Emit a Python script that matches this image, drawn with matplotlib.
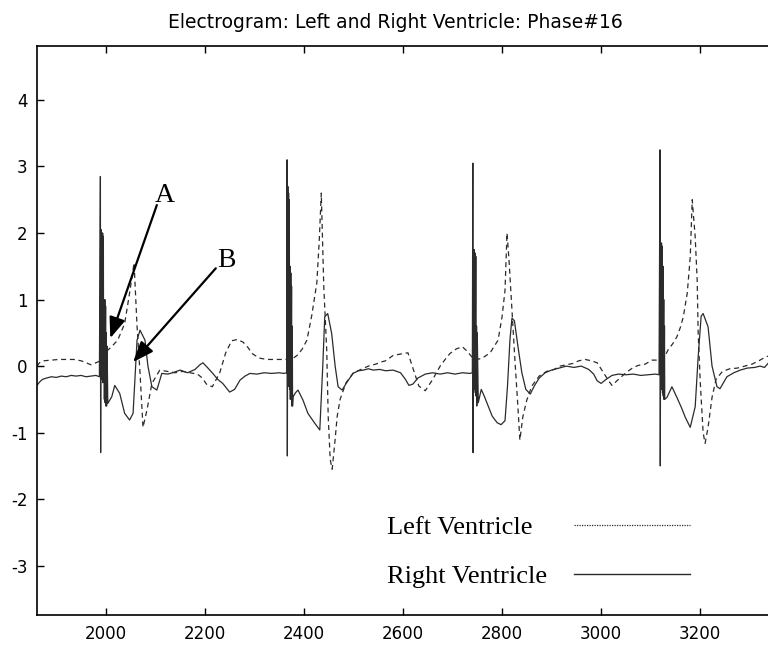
import numpy as np
import matplotlib.pyplot as plt
from matplotlib.lines import Line2D

plt.rcParams["axes.unicode_minus"] = False

# Right ventricle (solid) - sample times and voltages
rv_x = [1861, 1866, 1872, 1880, 1890, 1900, 1910, 1920, 1930, 1940, 1950, 1960, 1970, 1980, 1987,
        1989, 1989.5, 1990.5, 1991, 1992, 1992.5, 1993.5, 1994, 1995, 1995.5, 1996.5, 1997, 1998, 1998.5,
        1999.5, 2000, 2001, 2001.5, 2002.5,
        2004, 2012, 2018, 2028, 2038, 2048, 2055, 2063, 2069, 2079, 2085, 2093, 2103, 2113, 2125, 2135,
        2150, 2165, 2180, 2190, 2196, 2205, 2216, 2226, 2236, 2250, 2260, 2271, 2281, 2291, 2305, 2320,
        2335, 2350, 2360, 2365,
        2366, 2366.5, 2367.5, 2368, 2369, 2369.5, 2370.5, 2371, 2372, 2372.5, 2373.5, 2374, 2375, 2375.5,
        2376.5, 2377,
        2378, 2383, 2388, 2398, 2408, 2422, 2432, 2438, 2442, 2448, 2456, 2463, 2469, 2477, 2487, 2499,
        2510, 2520, 2530, 2540, 2553, 2565, 2580, 2595, 2605, 2612, 2620, 2630, 2645, 2660, 2675, 2690,
        2705, 2720, 2735, 2740,
        2741, 2741.5, 2742.5, 2743, 2744, 2744.5, 2745.5, 2746, 2747, 2747.5, 2748.5, 2749, 2750,
        2752, 2758, 2764, 2772, 2780, 2790, 2798, 2806, 2811, 2816, 2820, 2825, 2832, 2840, 2848, 2857,
        2865, 2875, 2887, 2900, 2915, 2930, 2945, 2960, 2975, 2985, 2992, 3000, 3010, 3022, 3035, 3050,
        3065, 3080, 3095, 3110, 3117,
        3119, 3119.5, 3120.5, 3121, 3122, 3122.5, 3123.5, 3124, 3125, 3125.5, 3126.5, 3127, 3128, 3128.5,
        3133, 3143, 3153, 3162, 3170, 3180, 3190, 3196, 3202, 3206, 3216, 3224, 3234, 3240, 3254, 3268,
        3281, 3295, 3310, 3321, 3330, 3337]
rv_y = [-0.29, -0.24, -0.2, -0.18, -0.16, -0.17, -0.15, -0.16, -0.14, -0.15, -0.14, -0.16, -0.15, -0.14, -0.16,
        2.85, -1.3, 2.05, -0.2, 2.0, -0.2, 2.0, -0.25, 1.95, -0.2, 1.0, -0.5, 1.0, -0.55,
        0.9, -0.6, 0.5, -0.6, 0.3,
        -0.56, -0.46, -0.29, -0.41, -0.71, -0.81, -0.71, 0.39, 0.54, 0.39, 0.0, -0.31, -0.36, -0.11, -0.12, -0.1,
        -0.06, -0.1, -0.05, 0.02, 0.05, -0.02, -0.11, -0.2, -0.26, -0.39, -0.35, -0.21, -0.15, -0.11, -0.12, -0.1,
        -0.11, -0.1, -0.11, -0.1,
        3.1, -1.35, 2.7, -0.3, 2.6, -0.3, 2.5, -0.35, 1.5, -0.5, 1.4, -0.5, 1.2, -0.6,
        0.6, -0.6,
        -0.46, -0.4, -0.36, -0.51, -0.71, -0.86, -0.96, 0.0, 0.74, 0.79, 0.49, 0.0, -0.31, -0.36, -0.24, -0.11,
        -0.07, -0.06, -0.04, -0.06, -0.05, -0.07, -0.06, -0.1, -0.2, -0.29, -0.27, -0.18, -0.12, -0.1, -0.12, -0.1,
        -0.12, -0.1, -0.11, -0.1,
        3.05, -1.3, 1.75, -0.3, 1.75, -0.35, 1.7, -0.4, 1.65, -0.45, 0.6, -0.6, 0.5,
        -0.55, -0.35, -0.45, -0.6, -0.75, -0.85, -0.88, -0.82, -0.3, 0.4, 0.72, 0.68, 0.3, -0.1, -0.35, -0.42,
        -0.3, -0.18, -0.1, -0.06, -0.03, 0.0, -0.02, 0.0, -0.05, -0.12, -0.22, -0.26, -0.2, -0.14, -0.12, -0.13,
        -0.12, -0.14, -0.13, -0.12, -0.13,
        3.25, -1.5, 1.85, -0.3, 1.85, -0.35, 1.8, -0.4, 1.5, -0.45, 1.0, -0.5, 0.6, -0.5,
        -0.47, -0.31, -0.47, -0.62, -0.77, -0.92, -0.61, 0.14, 0.75, 0.79, 0.59, 0.0, -0.31, -0.34, -0.16, -0.1,
        -0.06, -0.03, -0.02, 0.0, -0.02, 0.04]

# Left ventricle (dashed)
lv_x = [1861, 1866, 1875, 1890, 1905, 1920, 1935, 1950, 1960, 1970, 1980, 1989,
        1998, 2010, 2024, 2038, 2048, 2053, 2057, 2063, 2069, 2075, 2083, 2093, 2109, 2125, 2140, 2155,
        2170, 2185, 2195, 2204, 2215, 2230, 2242, 2254, 2265, 2277, 2287, 2295, 2310, 2325, 2340, 2357, 2366,
        2375, 2386, 2396, 2406, 2416, 2426, 2431, 2435, 2440, 2446, 2449, 2453, 2457, 2463, 2467, 2473,
        2485, 2500, 2515, 2530, 2545, 2555, 2565, 2580, 2594, 2610, 2620, 2632, 2645, 2660, 2675, 2685,
        2695, 2708, 2720, 2730, 2741,
        2750, 2760, 2776, 2792, 2800, 2806, 2810, 2814, 2820, 2826, 2832, 2836, 2842, 2850, 2860, 2875,
        2890, 2905, 2917, 2930, 2943, 2955, 2968, 2980, 2992, 3005, 3015, 3022, 3035, 3050, 3065, 3075,
        3089, 3103, 3113, 3119,
        3127, 3135, 3145, 3153, 3160, 3166, 3174, 3180, 3184, 3190, 3194, 3196, 3200, 3206, 3210, 3216,
        3224, 3232, 3245, 3260, 3275, 3290, 3305, 3321, 3330, 3337]
lv_y = [0.0, 0.05, 0.08, 0.09, 0.1, 0.1, 0.1, 0.08, 0.05, 0.02, 0.05, 0.08,
        0.2, 0.28, 0.39, 0.64, 1.1, 1.35, 1.55, 0.6, -0.1, -0.92, -0.66, -0.26, -0.06, -0.08, -0.1, -0.08,
        -0.1, -0.12, -0.18, -0.28, -0.31, -0.1, 0.2, 0.38, 0.4, 0.36, 0.28, 0.19, 0.12, 0.1, 0.1, 0.1, 0.1,
        0.1, 0.16, 0.25, 0.39, 0.77, 1.25, 1.9, 2.6, 1.2, 0.24, -0.76, -1.4, -1.55, -1.1, -0.76, -0.5,
        -0.25, -0.1, -0.05, 0.0, 0.03, 0.06, 0.08, 0.16, 0.18, 0.2, -0.03, -0.3, -0.37, -0.2, 0.0, 0.1,
        0.19, 0.26, 0.29, 0.22, 0.12,
        0.1, 0.12, 0.2, 0.39, 0.74, 1.14, 2.0, 1.6, 0.84, 0.09, -0.61, -1.11, -0.76, -0.51, -0.3, -0.15,
        -0.08, -0.05, 0.0, 0.02, 0.04, 0.08, 0.1, 0.08, 0.05, -0.1, -0.22, -0.29, -0.2, -0.1, -0.02, 0.01,
        0.03, 0.09, 0.09, 0.1,
        0.12, 0.24, 0.34, 0.44, 0.58, 0.74, 1.1, 1.64, 2.5, 1.94, 1.29, 0.5, -0.21, -1.0, -1.16, -0.92,
        -0.47, -0.2, -0.08, -0.04, -0.03, 0.0, 0.03, 0.09, 0.13, 0.15]

x_ticks = [2000, 2200, 2400, 2600, 2800, 3000, 3200]
y_ticks = [-3, -2, -1, 0, 1, 2, 3, 4]

fig = plt.figure(figsize=(7.68, 6.46), dpi=100)
ax = fig.add_axes([37/768, 31/646, 1 - 37/768, 569/646])

ax.plot(rv_x, rv_y, color="#2b2b2b", lw=0.9)
ax.plot(lv_x, lv_y, color="#2b2b2b", lw=0.9, ls=(0, (4, 3)))

ax.set_xlim(1861, 3337)
ax.set_ylim(-3.74, 4.81)
ax.set_xticks(x_ticks)
ax.set_yticks(y_ticks)
ax.tick_params(direction="in", length=5, width=1, top=True, right=False,
               labelsize=12, pad=7, colors="black")
ax.spines["right"].set_visible(False)
for s in ["left", "bottom", "top"]:
    ax.spines[s].set_linewidth(1.2)

# arrows A and B
arrow = dict(arrowstyle="-|>,head_length=0.9,head_width=0.35", color="black",
             lw=1.6, mutation_scale=14, shrinkA=0, shrinkB=0)
ax.annotate("", xy=(2009, 0.42), xytext=(2103, 2.42), arrowprops=arrow)
ax.annotate("", xy=(2055, 0.06), xytext=(2222, 1.47), arrowprops=arrow)
ax.text(2119, 2.57, "A", fontsize=20, family="Liberation Serif", ha="center", va="center")
ax.text(2244, 1.59, "B", fontsize=20, family="Liberation Serif", ha="center", va="center")

fig.suptitle("Electrogram: Left and Right Ventricle: Phase#16", x=0.515, y=1 - 22/646,
             va="center", fontsize=13.5)

# legend drawn as text + line pairs
fig.text(387/768, 1 - 534/646, "Left Ventricle", fontsize=19, family="Liberation Serif", va="baseline")
fig.text(387/768, 1 - 583/646, "Right Ventricle", fontsize=19, family="Liberation Serif", va="baseline")
fig.add_artist(Line2D([574/768, 690/768], [1 - 525/646, 1 - 525/646], color="#2b2b2b", lw=0.9, ls=(0, (1, 1))))
fig.add_artist(Line2D([574/768, 690/768], [1 - 574/646, 1 - 574/646], color="#2b2b2b", lw=1.0))

fig.savefig("out.png", dpi=100)
